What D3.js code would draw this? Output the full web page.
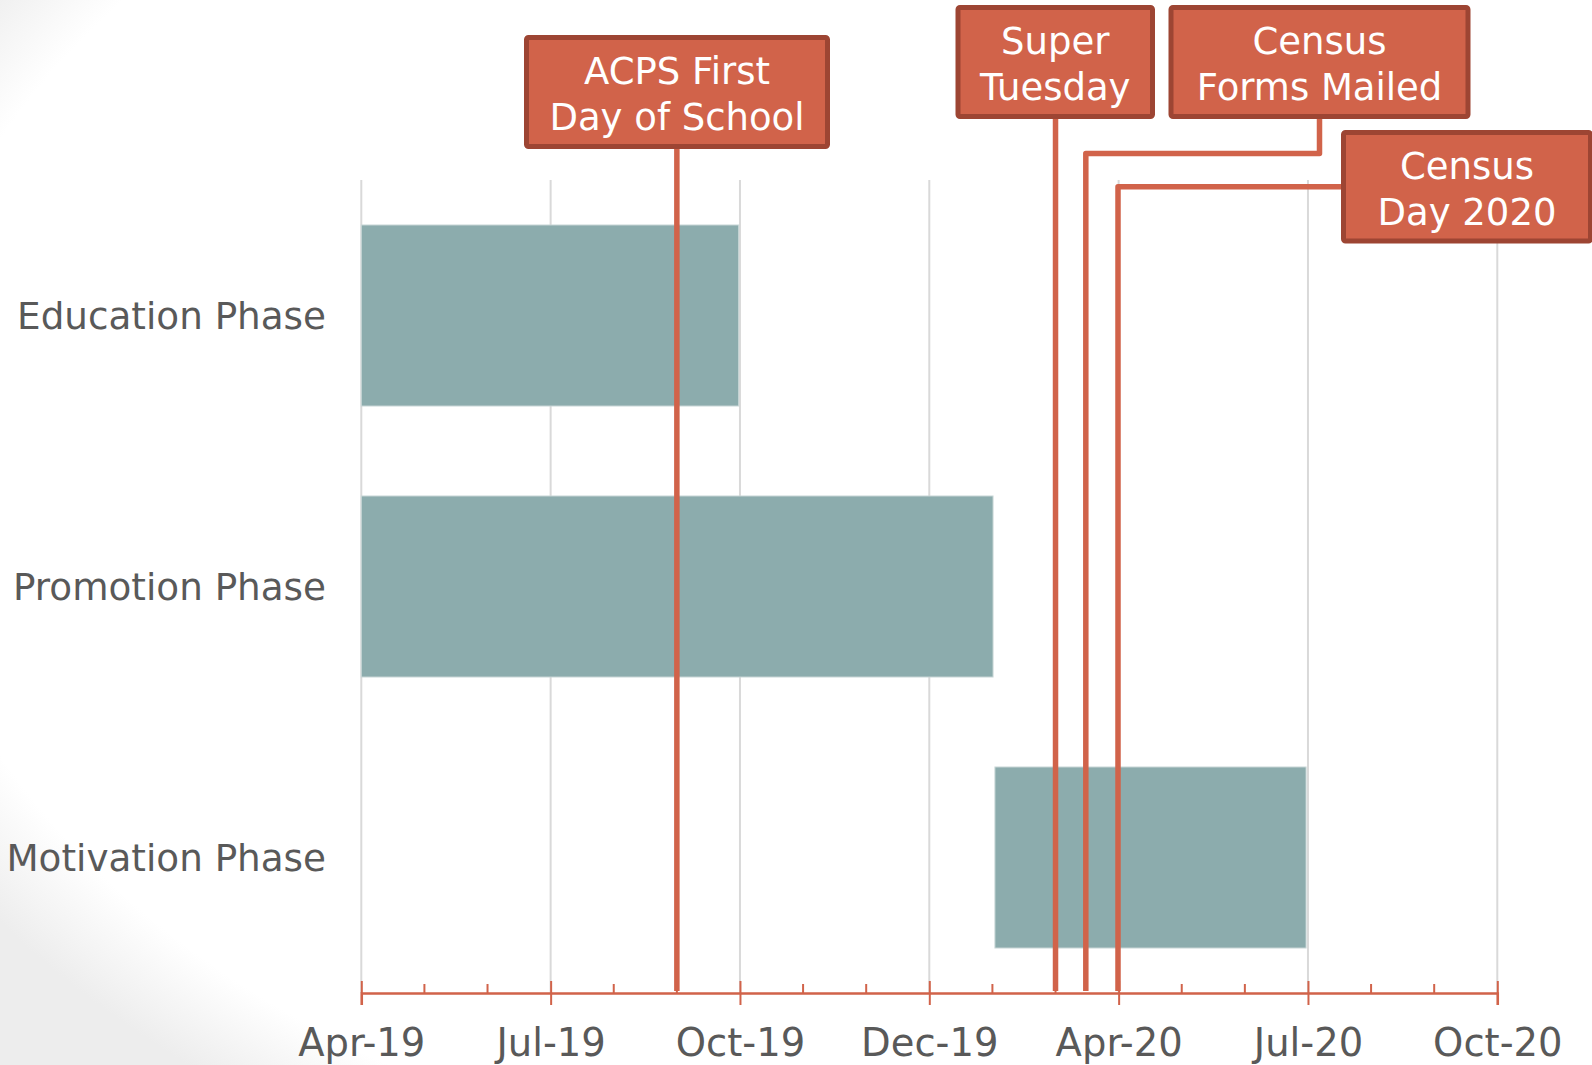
<!DOCTYPE html>
<html>
<head>
<meta charset="utf-8">
<script src="https://cdn.jsdelivr.net/npm/d3@7"></script>
<style>
  html, body { margin: 0; padding: 0; background: #fff; }
  svg { display: block; font-family: "DejaVu Sans", Verdana, sans-serif; }
</style>
</head>
<body>
<div id="chart"></div>
<script>
// phases (months counted from Apr-19)
var phases = ["Education Phase", "Promotion Phase", "Motivation Phase"];
var phaseStart = [0, 0, 10.04];
var phaseEnd = [5.98, 10.01, 14.97];

// key dates, same units
var eventNames = [["ACPS First", "Day of School"], ["Super", "Tuesday"], ["Census", "Forms Mailed"], ["Census", "Day 2020"]];
var eventMonth = [5.0, 11.0, 11.48, 11.99];

// axis
var tickMonths = [0, 3, 6, 9, 12, 15, 18];
var tickLabels = ["Apr-19", "Jul-19", "Oct-19", "Dec-19", "Apr-20", "Jul-20", "Oct-20"];

var W = 1592, H = 1065;
var plotTop = 180, axisY = 993;

// callout boxes: [left, top, right, bottom, elbowY, fromSide]
var boxes = [
  [524, 35, 830, 149, null, false],
  [955.5, 5, 1155, 119, null, false],
  [1168.5, 5, 1470.5, 119, 153.5, false],
  [1341, 130, 1593, 243.5, 186.7, true]
];

var orange = "#d1634a", orangeDark = "#9d4533", barCol = "#8cacad", txt = "#595959";

var svg = d3.select("#chart").append("svg").attr("width", W).attr("height", H);

// slide background: faint shading towards the left corners
var defs = svg.append("defs");
var grad = defs.append("radialGradient").attr("id", "bg").attr("cx", "64%").attr("cy", "42%").attr("r", "78%");
grad.append("stop").attr("offset", "0.9").attr("stop-color", "#ffffff");
grad.append("stop").attr("offset", "1").attr("stop-color", "#ededed");
svg.append("rect").attr("width", W).attr("height", H).attr("fill", "url(#bg)");

var x = d3.scaleLinear().domain([0, 18]).range([361.3, 1497.3]);
var y = d3.scaleBand().domain(phases).range([plotTop, axisY]).paddingInner(0.332).paddingOuter(0.166);

// gridlines
svg.append("g").selectAll("line").data(tickMonths).enter().append("line")
  .attr("x1", function(d){return x(d)}).attr("x2", function(d){return x(d)})
  .attr("y1", plotTop).attr("y2", axisY)
  .attr("stroke", "#d9d9d9").attr("stroke-width", 2);

// bars
svg.append("g").selectAll("rect").data(phases).enter().append("rect")
  .attr("x", function(d, i){return x(phaseStart[i])})
  .attr("width", function(d, i){return x(phaseEnd[i]) - x(phaseStart[i])})
  .attr("y", function(d){return y(d)})
  .attr("height", y.bandwidth())
  .attr("fill", barCol)
  .attr("stroke", "#c9d7d7").attr("stroke-width", 1);

// category labels
svg.append("g").selectAll("text").data(phases).enter().append("text")
  .attr("x", 326).attr("y", function(d){return y(d) + y.bandwidth()/2 + 13})
  .attr("text-anchor", "end").attr("font-size", 37.3).attr("fill", txt)
  .text(function(d){return d});

// leader lines
var lines = svg.append("g").attr("fill", "none").attr("stroke", orange).attr("stroke-width", 5.5).attr("stroke-linejoin", "round");
eventMonth.forEach(function(m, i){
  var b = boxes[i], lx = x(m), p;
  if (b[4] === null) p = [[lx, b[3]], [lx, axisY - 2]];
  else if (b[5]) p = [[b[0], b[4]], [lx, b[4]], [lx, axisY - 2]];
  else p = [[(b[0] + b[2]) / 2, b[3]], [(b[0] + b[2]) / 2, b[4]], [lx, b[4]], [lx, axisY - 2]];
  lines.append("path").attr("d", d3.line()(p));
});

// axis
var minor = d3.range(0, 19).filter(function(d){return d % 3 != 0});
svg.append("g").selectAll("line").data(minor).enter().append("line")
  .attr("x1", function(d){return x(d)}).attr("x2", function(d){return x(d)})
  .attr("y1", axisY - 9).attr("y2", axisY)
  .attr("stroke", orange).attr("stroke-width", 2);

var ax = svg.append("g").attr("transform", "translate(0," + axisY + ")")
  .call(d3.axisBottom(x).tickValues(tickMonths).tickSize(12).tickFormat(function(d, i){return tickLabels[i]}));
ax.select(".domain").attr("stroke", orange).attr("stroke-width", 2.5);
ax.selectAll(".tick line").attr("stroke", orange).attr("stroke-width", 2).attr("y1", -12);
ax.selectAll(".tick text").attr("y", 63).attr("dy", 0).attr("font-size", 38.5)
  .attr("fill", txt).attr("font-family", "DejaVu Sans, Verdana, sans-serif");

// callout boxes
var bx = svg.append("g");
boxes.forEach(function(b, i){
  bx.append("rect").attr("x", b[0] + 2.5).attr("y", b[1] + 2.5)
    .attr("width", b[2] - b[0] - 5).attr("height", b[3] - b[1] - 5)
    .attr("rx", 2).attr("fill", orange).attr("stroke", orangeDark).attr("stroke-width", 5);
  var cx = (b[0] + b[2]) / 2;
  eventNames[i].forEach(function(t, j){
    bx.append("text").attr("x", cx).attr("y", b[1] + 49 + j * 46)
      .attr("text-anchor", "middle").attr("font-size", 37).attr("fill", "#fff").text(t);
  });
});
</script>
</body>
</html>
